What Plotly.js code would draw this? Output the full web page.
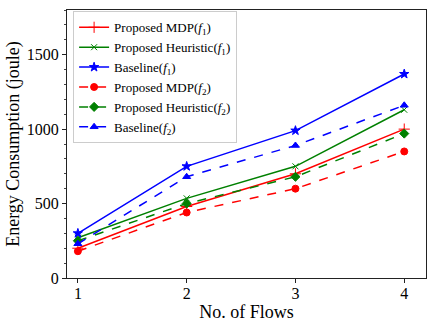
<!DOCTYPE html>
<html>
<head>
<meta charset="utf-8">
<script src="https://cdn.plot.ly/plotly-3.0.1.min.js"></script>
<style>html,body{margin:0;padding:0;background:#fff;}#chart{width:436px;height:327px;}</style>
</head>
<body>
<div id="chart"></div>
<script>
const flows = [1, 2, 3, 4];
const mdpF1 = [200, 480, 700, 1000];
const heurF1 = [270, 535, 750, 1130];
const baseF1 = [300, 750, 990, 1370];
const mdpF2 = [180, 440, 600, 850];
const heurF2 = [250, 500, 680, 970];
const baseF2 = [230, 680, 890, 1160];
const names = [
  'Proposed MDP(<i>f</i><sub>1</sub>)',
  'Proposed Heuristic(<i>f</i><sub>1</sub>)',
  'Baseline(<i>f</i><sub>1</sub>)',
  'Proposed MDP(<i>f</i><sub>2</sub>)',
  'Proposed Heuristic(<i>f</i><sub>2</sub>)',
  'Baseline(<i>f</i><sub>2</sub>)'
];
const series = [mdpF1, heurF1, baseF1, mdpF2, heurF2, baseF2];
const colors = ['#ff0000', '#008000', '#0000ff', '#ff0000', '#008000', '#0000ff'];
const dashes = ['solid', 'solid', 'solid', 'dash', 'dash', 'dash'];
const symbols = ['cross-thin', 'x-thin', 'star', 'circle', 'diamond', 'triangle-up'];
const sizes = [8, 6, 7, 7, 7, 7];

const traces = series.map((s, i) => ({
  x: flows, y: s, type: 'scatter', mode: 'lines+markers', name: names[i],
  line: {color: colors[i], width: 1.5, dash: dashes[i]},
  marker: {symbol: symbols[i], size: sizes[i], color: colors[i], line: {color: colors[i], width: 1}}
}));

const SERIF = 'Liberation Serif';
const layout = {
  width: 436, height: 327,
  margin: {l: 67, r: 10, t: 10, b: 49},
  paper_bgcolor: '#fff', plot_bgcolor: '#fff',
  font: {family: SERIF, color: '#000', size: 16},
  showlegend: true,
  legend: {x: 0.017, y: 0.995, xanchor: 'left', yanchor: 'top',
    bgcolor: 'rgba(255,255,255,0.8)', bordercolor: '#cccccc', borderwidth: 1,
    font: {size: 13, family: SERIF, color: '#000'}, tracegroupgap: 0},
  xaxis: {range: [0.9, 4.2], tickvals: flows, ticktext: flows.map(String),
    showgrid: false, zeroline: false, showline: true, linecolor: '#222', linewidth: 1, mirror: true,
    ticks: 'outside', ticklen: 4, tickcolor: '#222', ticklabelstandoff: -3,
    tickfont: {size: 16, family: SERIF, color: '#000'},
    title: {text: 'No. of Flows', font: {size: 18, family: SERIF, color: '#000'}, standoff: 0}},
  yaxis: {range: [0, 1800], tickvals: [0, 500, 1000, 1500],
    showgrid: false, zeroline: false, showline: true, linecolor: '#222', linewidth: 1, mirror: true,
    ticks: 'outside', ticklen: 4, tickcolor: '#222',
    minor: {dtick: 100, ticks: 'outside', ticklen: 2, tickcolor: '#444', showgrid: false},
    tickfont: {size: 16, family: SERIF, color: '#000'},
    title: {text: 'Energy Consumption (joule)', font: {size: 18, family: SERIF, color: '#000'}, standoff: 2}}
};
Plotly.newPlot('chart', traces, layout, {displayModeBar: false, staticPlot: true});
</script>
</body>
</html>
